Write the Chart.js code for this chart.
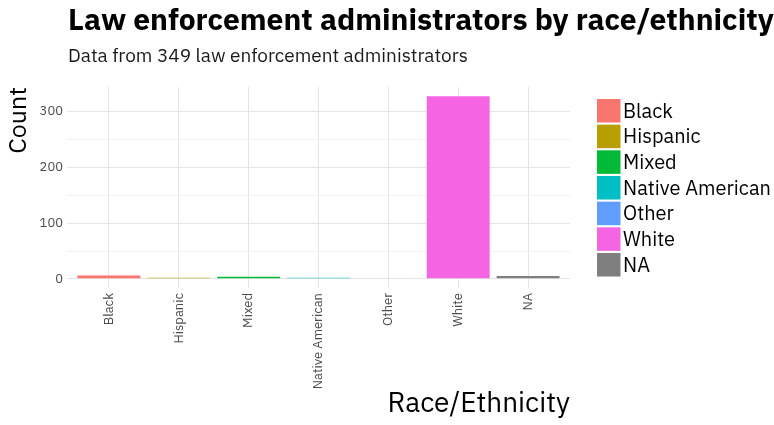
<!DOCTYPE html>
<html>
<head>
<meta charset="utf-8">
<script src="https://cdn.jsdelivr.net/npm/chart.js@4"></script>
<style>
  html, body { margin: 0; padding: 0; background: #fff; }
  #wrap { width: 774px; height: 425px; position: relative; }
</style>
</head>
<body>
<div id="wrap"><canvas id="raceChart" width="774" height="425"></canvas></div>
<script>
// administrators by race/ethnicity
const categories = ["Black", "Hispanic", "Mixed", "Native American", "Other", "White", "NA"];
const counts = [6, 2, 4, 2, 1, 328, 5];
const colors = ["#F8766D", "#B79F00", "#00BA38", "#00BFC4", "#619CFF", "#F564E3", "#7F7F7F"];
const yTicks = [0, 50, 100, 150, 200, 250, 300];

const FONT = "'IBM Plex Sans', Roboto, 'Noto Sans', sans-serif";

// ggplot-style expansion: 5% on the count axis, 0.6 of a slot on the discrete axis
const maxCount = Math.max(...counts);
const pad = maxCount * 0.05;

// title, subtitle and the fill legend on the right
const decorations = {
  id: "decorations",
  afterDraw(chart) {
    const ctx = chart.ctx;
    ctx.save();
    ctx.fillStyle = "#000";
    ctx.textAlign = "left";
    ctx.textBaseline = "alphabetic";
    ctx.font = "bold 30px " + FONT;
    ctx.fillText("Law enforcement administrators by race/ethnicity", 68, 30);
    ctx.font = "19px " + FONT;
    ctx.fillStyle = "#1a1a1a";
    ctx.fillText("Data from 349 law enforcement administrators", 68, 62);

    // legend keys
    const keyX = 597, keyTop = 99, step = 25.67, keySize = 23.5;
    ctx.font = "20px " + FONT;
    ctx.textBaseline = "middle";
    categories.forEach((c, i) => {
      const y = keyTop + i * step;
      ctx.fillStyle = colors[i];
      ctx.fillRect(keyX, y, keySize, keySize);
      ctx.fillStyle = "#000";
      ctx.fillText(c, 623, y + keySize / 2 + 1);
    });
    ctx.restore();
  },
};

const chart = new Chart(document.getElementById("raceChart"), {
  type: "bar",
  data: {
    datasets: [
      {
        data: counts.map((v, i) => ({ x: i, y: v })),
        backgroundColor: colors,
        borderWidth: 0,
        barPercentage: 0.9,
        categoryPercentage: 1,
      },
    ],
  },
  plugins: [decorations],
  options: {
    responsive: false,
    animation: false,
    layout: { padding: { top: 87, left: 0, right: 204, bottom: 0 } },
    plugins: {
      title: { display: false },
      tooltip: { enabled: false },
      legend: { display: false },
    },
    scales: {
      x: {
        type: "linear",
        min: -0.6,
        max: categories.length - 1 + 0.6,
        offset: false,
        afterBuildTicks(scale) {
          scale.ticks = categories.map((_, i) => ({ value: i }));
        },
        grid: { offset: false, color: "#e4e4e4", lineWidth: 1, drawTicks: false },
        border: { display: false },
        ticks: {
          minRotation: 90,
          maxRotation: 90,
          autoSkip: false,
          padding: 5,
          color: "#4d4d4d",
          font: { family: FONT, size: 13 },
          callback: (v) => categories[v],
        },
        title: {
          display: true,
          text: "Race/Ethnicity",
          align: "end",
          color: "#000",
          font: { family: FONT, size: 28 },
          padding: { top: 0, bottom: 4 },
        },
        afterFit(scale) {
          scale.height = 425 - 288;
        },
      },
      y: {
        min: -pad,
        max: maxCount + pad,
        afterBuildTicks(scale) {
          scale.ticks = yTicks.map((v) => ({ value: v }));
        },
        grid: {
          color: (c) => (c.tick && c.tick.value % 100 === 0 ? "#e4e4e4" : "#f1f1f1"),
          lineWidth: 1,
          drawTicks: false,
        },
        border: { display: false },
        ticks: {
          padding: 4,
          color: "#4d4d4d",
          font: { family: FONT, size: 13 },
          callback: (v) => (v % 100 === 0 ? v : ""),
        },
        title: {
          display: true,
          text: "Count",
          align: "end",
          color: "#000",
          font: { family: FONT, size: 25 },
          padding: { top: 4, bottom: 6 },
        },
        afterFit(scale) {
          scale.width = 67;
        },
      },
    },
  },
});
</script>
</body>
</html>
